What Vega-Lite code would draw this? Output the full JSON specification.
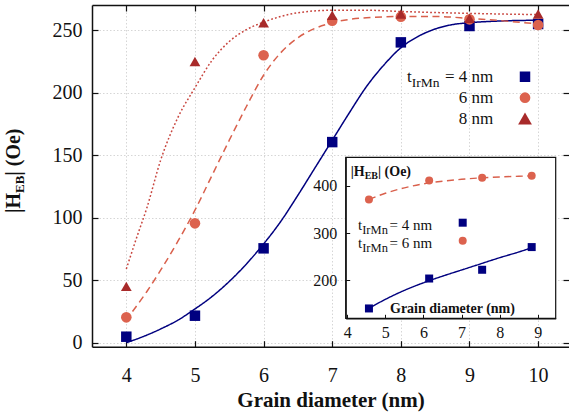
{
  "$schema": "https://vega.github.io/schema/vega-lite/v6.json",
  "width": 477,
  "height": 341.7,
  "autosize": {"type": "none"},
  "padding": {"left": 92, "top": 5, "right": 0, "bottom": 67.3},
  "background": "white",
  "config": {"view": {"stroke": null}, "font": "Liberation Serif", "text": {"font": "Liberation Serif", "color": "#111111"}},
  "datasets": {
    "main_points": [
      {"series": "4 nm", "d": 4, "h": 4.8}, {"series": "4 nm", "d": 5, "h": 21.6}, {"series": "4 nm", "d": 6, "h": 75.5}, {"series": "4 nm", "d": 7, "h": 160.5}, {"series": "4 nm", "d": 8, "h": 240.3}, {"series": "4 nm", "d": 9, "h": 253.4}, {"series": "4 nm", "d": 10, "h": 255},
      {"series": "6 nm", "d": 4, "h": 20.3}, {"series": "6 nm", "d": 5, "h": 95.5}, {"series": "6 nm", "d": 6, "h": 230}, {"series": "6 nm", "d": 7, "h": 257.6}, {"series": "6 nm", "d": 8, "h": 260.8}, {"series": "6 nm", "d": 9, "h": 258.7}, {"series": "6 nm", "d": 10, "h": 254.2},
      {"series": "8 nm", "d": 4, "h": 45}, {"series": "8 nm", "d": 5, "h": 225}, {"series": "8 nm", "d": 6, "h": 256}, {"series": "8 nm", "d": 7, "h": 262}, {"series": "8 nm", "d": 8, "h": 263}, {"series": "8 nm", "d": 9, "h": 259.5}, {"series": "8 nm", "d": 10, "h": 263}
    ],
    "main_fits": [
      {"series": "4 nm", "d": 4.0, "h": 0}, {"series": "4 nm", "d": 4.25, "h": 5}, {"series": "4 nm", "d": 4.5, "h": 11}, {"series": "4 nm", "d": 4.75, "h": 18}, {"series": "4 nm", "d": 5.0, "h": 27}, {"series": "4 nm", "d": 5.25, "h": 37}, {"series": "4 nm", "d": 5.5, "h": 49}, {"series": "4 nm", "d": 5.75, "h": 63}, {"series": "4 nm", "d": 6.0, "h": 79}, {"series": "4 nm", "d": 6.25, "h": 97}, {"series": "4 nm", "d": 6.5, "h": 118}, {"series": "4 nm", "d": 6.75, "h": 140}, {"series": "4 nm", "d": 7.0, "h": 162}, {"series": "4 nm", "d": 7.25, "h": 184}, {"series": "4 nm", "d": 7.5, "h": 205}, {"series": "4 nm", "d": 7.75, "h": 222}, {"series": "4 nm", "d": 8.0, "h": 236}, {"series": "4 nm", "d": 8.25, "h": 245}, {"series": "4 nm", "d": 8.5, "h": 251}, {"series": "4 nm", "d": 8.75, "h": 254.5}, {"series": "4 nm", "d": 9.0, "h": 256}, {"series": "4 nm", "d": 9.5, "h": 257.5}, {"series": "4 nm", "d": 10.0, "h": 258},
      {"series": "6 nm", "d": 4.09, "h": 25}, {"series": "6 nm", "d": 4.3, "h": 41}, {"series": "6 nm", "d": 4.5, "h": 58}, {"series": "6 nm", "d": 4.75, "h": 81}, {"series": "6 nm", "d": 5.0, "h": 106}, {"series": "6 nm", "d": 5.25, "h": 134}, {"series": "6 nm", "d": 5.5, "h": 162}, {"series": "6 nm", "d": 5.75, "h": 189}, {"series": "6 nm", "d": 6.0, "h": 214}, {"series": "6 nm", "d": 6.25, "h": 232}, {"series": "6 nm", "d": 6.5, "h": 244}, {"series": "6 nm", "d": 6.75, "h": 251.5}, {"series": "6 nm", "d": 7.0, "h": 256}, {"series": "6 nm", "d": 7.5, "h": 260}, {"series": "6 nm", "d": 8.0, "h": 261}, {"series": "6 nm", "d": 8.5, "h": 261}, {"series": "6 nm", "d": 9.0, "h": 259.5}, {"series": "6 nm", "d": 9.5, "h": 257.5}, {"series": "6 nm", "d": 10.0, "h": 255},
      {"series": "8 nm", "d": 4.0, "h": 59}, {"series": "8 nm", "d": 4.15, "h": 84}, {"series": "8 nm", "d": 4.3, "h": 108}, {"series": "8 nm", "d": 4.5, "h": 146}, {"series": "8 nm", "d": 4.75, "h": 180}, {"series": "8 nm", "d": 5.0, "h": 204}, {"series": "8 nm", "d": 5.25, "h": 226}, {"series": "8 nm", "d": 5.5, "h": 241}, {"series": "8 nm", "d": 5.75, "h": 250.5}, {"series": "8 nm", "d": 6.0, "h": 256.5}, {"series": "8 nm", "d": 6.25, "h": 261}, {"series": "8 nm", "d": 6.5, "h": 264}, {"series": "8 nm", "d": 7.0, "h": 266}, {"series": "8 nm", "d": 7.5, "h": 266}, {"series": "8 nm", "d": 8.0, "h": 265}, {"series": "8 nm", "d": 9.0, "h": 263.5}, {"series": "8 nm", "d": 10.0, "h": 262.5}
    ],
    "inset_points": [
      {"series": "4 nm", "d": 4.57, "h": 140.8}, {"series": "4 nm", "d": 6.15, "h": 204}, {"series": "4 nm", "d": 7.54, "h": 222.5}, {"series": "4 nm", "d": 8.84, "h": 270.4},
      {"series": "6 nm", "d": 4.57, "h": 371}, {"series": "6 nm", "d": 6.15, "h": 411}, {"series": "6 nm", "d": 7.54, "h": 417}, {"series": "6 nm", "d": 8.84, "h": 421}
    ],
    "inset_fits": [
      {"series": "4 nm", "d": 4.57, "h": 141}, {"series": "4 nm", "d": 5.0, "h": 160}, {"series": "4 nm", "d": 5.5, "h": 179}, {"series": "4 nm", "d": 6.0, "h": 195}, {"series": "4 nm", "d": 6.5, "h": 209}, {"series": "4 nm", "d": 7.0, "h": 222}, {"series": "4 nm", "d": 7.5, "h": 235}, {"series": "4 nm", "d": 8.0, "h": 248}, {"series": "4 nm", "d": 8.5, "h": 260}, {"series": "4 nm", "d": 8.84, "h": 269},
      {"series": "6 nm", "d": 4.57, "h": 371}, {"series": "6 nm", "d": 5.0, "h": 384}, {"series": "6 nm", "d": 5.5, "h": 395.5}, {"series": "6 nm", "d": 6.0, "h": 404}, {"series": "6 nm", "d": 6.5, "h": 409.5}, {"series": "6 nm", "d": 7.0, "h": 413.5}, {"series": "6 nm", "d": 7.5, "h": 416.5}, {"series": "6 nm", "d": 8.0, "h": 418.5}, {"series": "6 nm", "d": 8.5, "h": 420}, {"series": "6 nm", "d": 8.84, "h": 421}
    ]
  },
  "layer": [
    {
      "layer": [
        {
          "layer": [
            {
              "data": {"name": "main_fits"},
              "mark": {"type": "line", "interpolate": "monotone", "strokeCap": "butt"},
              "encoding": {
                "x": {"field": "d", "type": "quantitative", "scale": {"domain": [3.5, 10.45], "nice": false, "zero": false},
                  "axis": {"orient": "bottom", "values": [4, 5, 6, 7, 8, 9, 10], "format": "d", "grid": true, "gridColor": "#cccccc", "gridDash": [1.5, 2], "gridWidth": 0.8, "domain": true, "domainColor": "#111111", "domainWidth": 1.5, "ticks": true, "tickSize": -6, "tickColor": "#111111", "tickWidth": 1.2, "labelFont": "Liberation Serif", "labelFontSize": 20, "labelColor": "#111111", "labelPadding": 25, "labelFlush": false, "labelOverlap": false, "title": "Grain diameter (nm)", "titleFont": "Liberation Serif", "titleFontSize": 21, "titleFontWeight": "bold", "titleColor": "#111111", "titlePadding": 4}},
                "y": {"field": "h", "type": "quantitative", "scale": {"domain": [-3.2, 270.2], "nice": false, "zero": false},
                  "axis": {"orient": "left", "values": [0, 50, 100, 150, 200, 250], "format": "d", "grid": true, "gridColor": "#cccccc", "gridDash": [1.5, 2], "gridWidth": 0.8, "domain": true, "domainColor": "#111111", "domainWidth": 1.5, "ticks": true, "tickSize": -6, "tickColor": "#111111", "tickWidth": 1.2, "labelFont": "Liberation Serif", "labelFontSize": 20, "labelColor": "#111111", "labelPadding": 16, "labelFlush": false, "labelOverlap": false, "title": null}},
                "color": {"field": "series", "type": "nominal", "scale": {"domain": ["4 nm", "6 nm", "8 nm"], "range": ["#00007f", "#d9604c", "#c8453e"]}, "legend": null},
                "strokeDash": {"field": "series", "type": "nominal", "scale": {"domain": ["4 nm", "6 nm", "8 nm"], "range": [[1, 0], [7, 4.5], [1.8, 2.2]]}, "legend": null},
                "strokeWidth": {"field": "series", "type": "nominal", "scale": {"domain": ["4 nm", "6 nm", "8 nm"], "range": [1.5, 1.5, 2.2]}, "legend": null}
              }
            },
            {
              "data": {"name": "main_points"},
              "mark": {"type": "point", "filled": true, "opacity": 1, "strokeWidth": 0},
              "encoding": {
                "x": {"field": "d", "type": "quantitative"},
                "y": {"field": "h", "type": "quantitative"},
                "fill": {"field": "series", "type": "nominal", "scale": {"domain": ["4 nm", "6 nm", "8 nm"], "range": ["#000080", "#dc624e", "#a82a2a"]}, "legend": null},
                "shape": {"field": "series", "type": "nominal", "scale": {"domain": ["4 nm", "6 nm", "8 nm"], "range": ["square", "circle", "triangle-up"]}, "legend": null},
                "size": {"field": "series", "type": "nominal", "scale": {"domain": ["4 nm", "6 nm", "8 nm"], "range": [110, 115, 190]}, "legend": null}
              }
            },
            {
              "data": {"values": [{}]},
              "mark": {"type": "point", "filled": true, "opacity": 1, "strokeWidth": 0, "shape": "square", "size": 110, "fill": "#000080"},
              "encoding": {"x": {"datum": 9.809, "type": "quantitative"}, "y": {"datum": 212.8, "type": "quantitative"}}
            },
            {
              "data": {"values": [{}]},
              "mark": {"type": "point", "filled": true, "opacity": 1, "strokeWidth": 0, "shape": "circle", "size": 115, "fill": "#dc624e"},
              "encoding": {"x": {"datum": 9.809, "type": "quantitative"}, "y": {"datum": 196.0, "type": "quantitative"}}
            },
            {
              "data": {"values": [{}]},
              "mark": {"type": "point", "filled": true, "opacity": 1, "strokeWidth": 0, "shape": "triangle-up", "size": 190, "fill": "#a82a2a"},
              "encoding": {"x": {"datum": 9.809, "type": "quantitative"}, "y": {"datum": 179.4, "type": "quantitative"}}
            },
            {
              "data": {"values": [{}]},
              "mark": {"type": "text", "text": "t", "font": "Liberation Serif", "fontSize": 17, "align": "right", "baseline": "alphabetic", "dx": -81.5, "color": "#111111"},
              "encoding": {"x": {"datum": 9.347, "type": "quantitative"}, "y": {"datum": 208.4, "type": "quantitative"}}
            },
            {
              "data": {"values": [{}]},
              "mark": {"type": "text", "text": "IrMn", "font": "Liberation Serif", "fontSize": 13.5, "align": "right", "baseline": "alphabetic", "dx": -53.8, "dy": 4.5, "color": "#111111"},
              "encoding": {"x": {"datum": 9.347, "type": "quantitative"}, "y": {"datum": 208.4, "type": "quantitative"}}
            },
            {
              "data": {"values": [{}]},
              "mark": {"type": "text", "text": "\u00a0= 4 nm", "font": "Liberation Serif", "fontSize": 17, "align": "right", "baseline": "alphabetic", "color": "#111111"},
              "encoding": {"x": {"datum": 9.347, "type": "quantitative"}, "y": {"datum": 208.4, "type": "quantitative"}}
            },
            {
              "data": {"values": [{}]},
              "mark": {"type": "text", "text": "6 nm", "font": "Liberation Serif", "fontSize": 17, "align": "right", "baseline": "alphabetic", "color": "#111111"},
              "encoding": {"x": {"datum": 9.347, "type": "quantitative"}, "y": {"datum": 191.6, "type": "quantitative"}}
            },
            {
              "data": {"values": [{}]},
              "mark": {"type": "text", "text": "8 nm", "font": "Liberation Serif", "fontSize": 17, "align": "right", "baseline": "alphabetic", "color": "#111111"},
              "encoding": {"x": {"datum": 9.347, "type": "quantitative"}, "y": {"datum": 175.0, "type": "quantitative"}}
            },
            {
              "data": {"values": [{}]},
              "mark": {"type": "text", "text": "|H", "font": "Liberation Serif", "fontSize": 20, "fontWeight": "bold", "angle": 270, "align": "left", "baseline": "alphabetic", "color": "#111111"},
              "encoding": {"x": {"datum": 2.451, "type": "quantitative"}, "y": {"datum": 103.8, "type": "quantitative"}}
            },
            {
              "data": {"values": [{}]},
              "mark": {"type": "text", "text": "EB", "font": "Liberation Serif", "fontSize": 13, "fontWeight": "bold", "angle": 270, "align": "left", "baseline": "alphabetic", "dx": 20, "dy": 4, "color": "#111111"},
              "encoding": {"x": {"datum": 2.451, "type": "quantitative"}, "y": {"datum": 103.8, "type": "quantitative"}}
            },
            {
              "data": {"values": [{}]},
              "mark": {"type": "text", "text": "|\u00a0(Oe)", "font": "Liberation Serif", "fontSize": 20, "fontWeight": "bold", "angle": 270, "align": "left", "baseline": "alphabetic", "dx": 37.3, "color": "#111111"},
              "encoding": {"x": {"datum": 2.451, "type": "quantitative"}, "y": {"datum": 103.8, "type": "quantitative"}}
            }
          ]
        },
        {
          "data": {"name": "main_points"},
          "mark": {"type": "point", "opacity": 0},
          "encoding": {
            "x": {"field": "d", "type": "quantitative", "axis": {"orient": "top", "values": [4, 5, 6, 7, 8, 9, 10], "grid": false, "labels": false, "domain": true, "domainColor": "#111111", "domainWidth": 1.5, "ticks": true, "tickSize": -6, "tickColor": "#111111", "tickWidth": 1.2, "title": null}},
            "y": {"field": "h", "type": "quantitative", "axis": {"orient": "right", "values": [0, 50, 100, 150, 200, 250], "grid": false, "labels": false, "domain": false, "ticks": true, "tickSize": -6, "tickColor": "#111111", "tickWidth": 1.2, "title": null}}
          }
        }
      ],
      "resolve": {"axis": {"x": "independent", "y": "independent"}}
    },
    {
      "layer": [
        {
          "data": {"values": [{}]},
          "mark": {"type": "rect", "fill": "white", "stroke": "#111111", "strokeWidth": 1.2},
          "encoding": {
            "x": {"datum": 3.96, "type": "quantitative"}, "x2": {"datum": 9.47},
            "y": {"datum": 120, "type": "quantitative"}, "y2": {"datum": 460}
          }
        },
        {
          "data": {"name": "inset_fits"},
          "mark": {"type": "line", "interpolate": "monotone", "strokeWidth": 1.4, "strokeCap": "butt"},
          "encoding": {
            "x": {"field": "d", "type": "quantitative", "scale": {"domain": [3.96, 9.47], "range": [253.7, 463.7], "nice": false, "zero": false},
              "axis": {"orient": "bottom", "offset": -28.4, "zindex": 2, "values": [4, 5, 6, 7, 8, 9], "format": "d", "grid": false, "domain": true, "domainColor": "#111111", "domainWidth": 1.2, "ticks": true, "tickSize": -4, "tickColor": "#111111", "labelFont": "Liberation Serif", "labelFontSize": 16, "labelColor": "#111111", "labelPadding": 10, "labelFlush": false, "labelOverlap": false, "title": null}},
            "y": {"field": "h", "type": "quantitative", "scale": {"domain": [120, 460], "range": [313.3, 152.3], "nice": false, "zero": false},
              "axis": {"orient": "left", "offset": -253.7, "zindex": 2, "values": [200, 300, 400], "format": "d", "grid": false, "domain": true, "domainColor": "#111111", "domainWidth": 1.2, "ticks": true, "tickSize": -4, "tickColor": "#111111", "labelFont": "Liberation Serif", "labelFontSize": 16, "labelColor": "#111111", "labelPadding": 13, "labelFlush": false, "labelOverlap": false, "title": null}},
            "color": {"field": "series", "type": "nominal", "legend": null},
            "strokeDash": {"field": "series", "type": "nominal", "legend": null}
          }
        },
        {
          "data": {"name": "inset_points"},
          "mark": {"type": "point", "filled": true, "opacity": 1, "strokeWidth": 0, "size": 64},
          "encoding": {
            "x": {"field": "d", "type": "quantitative"},
            "y": {"field": "h", "type": "quantitative"},
            "fill": {"field": "series", "type": "nominal", "legend": null},
            "shape": {"field": "series", "type": "nominal", "legend": null}
          }
        },
        {
          "data": {"values": [{}]},
          "mark": {"type": "text", "text": "|H", "font": "Liberation Serif", "fontSize": 14, "fontWeight": "bold", "align": "left", "baseline": "alphabetic", "color": "#111111"},
          "encoding": {"x": {"datum": 4.091, "type": "quantitative"}, "y": {"datum": 421.4, "type": "quantitative"}}
        },
        {
          "data": {"values": [{}]},
          "mark": {"type": "text", "text": "EB", "font": "Liberation Serif", "fontSize": 10, "fontWeight": "bold", "align": "left", "baseline": "alphabetic", "dx": 14, "dy": 3.5, "color": "#111111"},
          "encoding": {"x": {"datum": 4.091, "type": "quantitative"}, "y": {"datum": 421.4, "type": "quantitative"}}
        },
        {
          "data": {"values": [{}]},
          "mark": {"type": "text", "text": "|\u00a0(Oe)", "font": "Liberation Serif", "fontSize": 14, "fontWeight": "bold", "align": "left", "baseline": "alphabetic", "dx": 27.3, "color": "#111111"},
          "encoding": {"x": {"datum": 4.091, "type": "quantitative"}, "y": {"datum": 421.4, "type": "quantitative"}}
        },
        {
          "data": {"values": [{}]},
          "mark": {"type": "text", "text": "t", "font": "Liberation Serif", "fontSize": 15, "align": "left", "baseline": "alphabetic", "color": "#111111"},
          "encoding": {"x": {"datum": 4.283, "type": "quantitative"}, "y": {"datum": 306.5, "type": "quantitative"}}
        },
        {
          "data": {"values": [{}]},
          "mark": {"type": "text", "text": "IrMn", "font": "Liberation Serif", "fontSize": 12.5, "align": "left", "baseline": "alphabetic", "dx": 4.2, "dy": 4, "color": "#111111"},
          "encoding": {"x": {"datum": 4.283, "type": "quantitative"}, "y": {"datum": 306.5, "type": "quantitative"}}
        },
        {
          "data": {"values": [{}]},
          "mark": {"type": "text", "text": "\u00a0= 4 nm", "font": "Liberation Serif", "fontSize": 15, "align": "left", "baseline": "alphabetic", "dx": 31.5, "color": "#111111"},
          "encoding": {"x": {"datum": 4.283, "type": "quantitative"}, "y": {"datum": 306.5, "type": "quantitative"}}
        },
        {
          "data": {"values": [{}]},
          "mark": {"type": "text", "text": "t", "font": "Liberation Serif", "fontSize": 15, "align": "left", "baseline": "alphabetic", "color": "#111111"},
          "encoding": {"x": {"datum": 4.283, "type": "quantitative"}, "y": {"datum": 269.1, "type": "quantitative"}}
        },
        {
          "data": {"values": [{}]},
          "mark": {"type": "text", "text": "IrMn", "font": "Liberation Serif", "fontSize": 12.5, "align": "left", "baseline": "alphabetic", "dx": 4.2, "dy": 4, "color": "#111111"},
          "encoding": {"x": {"datum": 4.283, "type": "quantitative"}, "y": {"datum": 269.1, "type": "quantitative"}}
        },
        {
          "data": {"values": [{}]},
          "mark": {"type": "text", "text": "\u00a0= 6 nm", "font": "Liberation Serif", "fontSize": 15, "align": "left", "baseline": "alphabetic", "dx": 31.5, "color": "#111111"},
          "encoding": {"x": {"datum": 4.283, "type": "quantitative"}, "y": {"datum": 269.1, "type": "quantitative"}}
        },
        {
          "data": {"values": [{}]},
          "mark": {"type": "point", "filled": true, "opacity": 1, "strokeWidth": 0, "shape": "square", "size": 64, "fill": "#000080"},
          "encoding": {"x": {"datum": 7.03, "type": "quantitative"}, "y": {"datum": 321.9, "type": "quantitative"}}
        },
        {
          "data": {"values": [{}]},
          "mark": {"type": "point", "filled": true, "opacity": 1, "strokeWidth": 0, "shape": "circle", "size": 64, "fill": "#dc624e"},
          "encoding": {"x": {"datum": 7.03, "type": "quantitative"}, "y": {"datum": 283.9, "type": "quantitative"}}
        },
        {
          "data": {"values": [{}]},
          "mark": {"type": "text", "text": "Grain diameter (nm)", "font": "Liberation Serif", "fontSize": 14, "fontWeight": "bold", "align": "left", "baseline": "alphabetic", "color": "#111111"},
          "encoding": {"x": {"datum": 5.122, "type": "quantitative"}, "y": {"datum": 131.8, "type": "quantitative"}}
        }
      ]
    }
  ],
  "resolve": {"scale": {"x": "independent", "y": "independent"}}
}
